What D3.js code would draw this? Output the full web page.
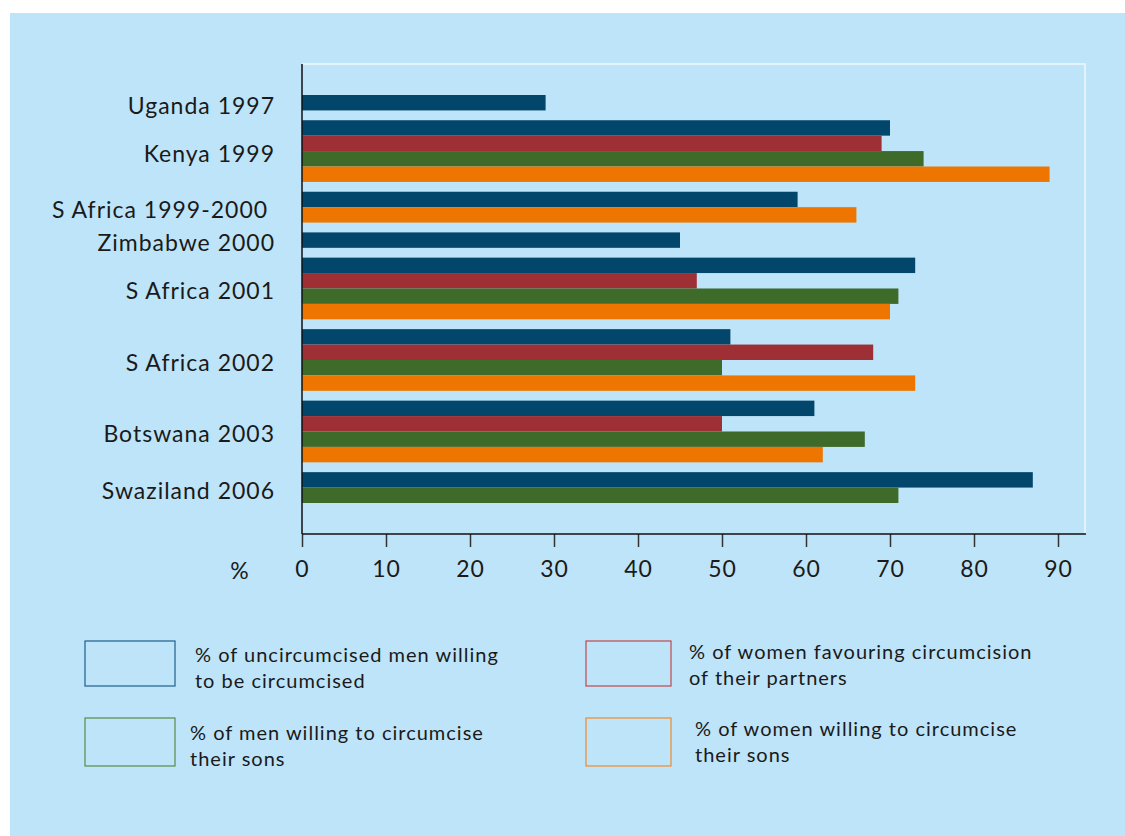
<!DOCTYPE html>
<html>
<head>
<meta charset="utf-8">
<script src="https://cdn.jsdelivr.net/npm/d3@7"></script>
<style>
  body { margin: 0; background: #fff; }
  svg text { font-family: Lato, "Open Sans", sans-serif; fill: #1a1a1a; letter-spacing: 1px; }
</style>
</head>
<body>
<div id="chart"></div>
<script>
var width = 1125,
    height = 836;

// categories, top to bottom
var categories = ["Uganda 1997", "Kenya 1999", "S Africa 1999-2000\u00a0", "Zimbabwe 2000",
                  "S Africa 2001", "S Africa 2002", "Botswana 2003", "Swaziland 2006"];

// series values (null = not surveyed)
var menSelf      = [29, 70, 59, 45, 73, 51, 61, 87];
var womenPartner = [null, 69, null, null, 47, 68, 50, null];
var menSons      = [null, 74, null, null, 71, 50, 67, 71];
var womenSons    = [null, 89, 66, null, 70, 73, 62, null];

var seriesNames = ["% of uncircumcised men willing|to be circumcised",
                   "% of women favouring circumcision|of their partners",
                   "% of men willing to circumcise|their sons",
                   "% of women willing to circumcise|their sons"];

var xTicks = [0, 10, 20, 30, 40, 50, 60, 70, 80, 90];

var colours = {
    bg: "#bee4f9",
    series: ["#02466b", "#9e3035", "#3e6a2a", "#ee7600"],
    legend: ["#1f5f8b", "#c0474b", "#5a8a45", "#f08a2a"]
};

var plot = {left: 302, right: 1085, top: 64, bottom: 534};

var svg = d3.select("#chart").append("svg")
    .attr("width", width)
    .attr("height", height);

svg.append("rect")
    .attr("x", 10).attr("y", 13)
    .attr("width", width - 10).attr("height", height - 13)
    .style("fill", colours.bg);

var allSeries = [menSelf, womenPartner, menSons, womenSons];

// flatten into rows, bars only for series that have a value
var gapRatio = 0.636;
var rows = [], groups = [], count = 0;
categories.forEach(function(c, i) {
    var start = count + i * gapRatio;
    allSeries.forEach(function(s, k) {
        if (s[i] != null) {
            rows.push({cat: c, series: k, value: s[i], slot: count + i * gapRatio});
            count++;
        }
    });
    groups.push({cat: c, start: start, end: count + i * gapRatio});
});

var xScale = d3.scaleLinear()
    .domain([0, 90])
    .range([plot.left, plot.left + 756]);

var yScale = d3.scaleLinear()
    .domain([0, count + (categories.length - 1) * gapRatio])
    .range([95, 503]);

var barH = yScale(1) - yScale(0);

// white frame top/right
svg.append("path")
    .attr("d", "M" + plot.left + "," + plot.top + "H" + plot.right + "V" + plot.bottom)
    .style("fill", "none")
    .style("stroke", "#eef8ff")
    .style("stroke-width", 1.5);

svg.append("g")
    .selectAll("rect")
    .data(rows)
    .enter().append("rect")
    .attr("x", xScale(0))
    .attr("y", function(d) { return yScale(d.slot); })
    .attr("width", function(d) { return xScale(d.value) - xScale(0); })
    .attr("height", barH)
    .style("fill", function(d) { return colours.series[d.series]; });

// category labels
svg.append("g")
    .selectAll("text")
    .data(groups)
    .enter().append("text")
    .attr("x", 275)
    .attr("y", function(d) { return (yScale(d.start) + yScale(d.end)) / 2 + 11; })
    .attr("text-anchor", "end")
    .style("font-size", "23px")
    .style("white-space", "pre")
    .text(function(d) { return d.cat; });

// axes
var xAxis = d3.axisBottom(xScale)
    .tickValues(xTicks)
    .tickSize(13)
    .tickPadding(14);

var gX = svg.append("g")
    .attr("transform", "translate(0," + plot.bottom + ")")
    .call(xAxis);
gX.select(".domain").remove();
gX.selectAll(".tick line").style("stroke", "#333").style("stroke-width", 1.5);
gX.selectAll(".tick text").style("font-size", "23px").style("font-family", "Lato, sans-serif").attr("fill", "#1a1a1a");

svg.append("line")
    .attr("x1", plot.left).attr("x2", plot.right + 1)
    .attr("y1", plot.bottom).attr("y2", plot.bottom)
    .style("stroke", "#111").style("stroke-width", 1.5);
svg.append("line")
    .attr("x1", plot.left).attr("x2", plot.left)
    .attr("y1", plot.top).attr("y2", plot.bottom)
    .style("stroke", "#111").style("stroke-width", 1.5);

svg.append("text")
    .attr("x", 240).attr("y", 579)
    .attr("text-anchor", "middle")
    .style("font-size", "23px")
    .text("%");

// legend
var legendPos = [
    {bx: 85, by: 641, bw: 90, bh: 45, tx: 195, ty: 662},
    {bx: 586, by: 641, bw: 85, bh: 45, tx: 689, ty: 659},
    {bx: 85, by: 718, bw: 90, bh: 48, tx: 190, ty: 740},
    {bx: 586, by: 718, bw: 85, bh: 48, tx: 695, ty: 736}
];

var legend = svg.append("g")
    .selectAll("g")
    .data(seriesNames)
    .enter().append("g");

legend.append("rect")
    .attr("x", function(d, i) { return legendPos[i].bx; })
    .attr("y", function(d, i) { return legendPos[i].by; })
    .attr("width", function(d, i) { return legendPos[i].bw; })
    .attr("height", function(d, i) { return legendPos[i].bh; })
    .style("fill", "none")
    .style("stroke", function(d, i) { return colours.legend[i]; })
    .style("stroke-width", 1.2);

legend.append("text")
    .attr("y", function(d, i) { return legendPos[i].ty; })
    .style("font-size", "20px")
    .each(function(d, i) {
        var t = d3.select(this);
        d.split("|").forEach(function(line, j) {
            t.append("tspan")
                .attr("x", legendPos[i].tx)
                .attr("dy", j === 0 ? 0 : 26)
                .text(line);
        });
    });
</script>
</body>
</html>
